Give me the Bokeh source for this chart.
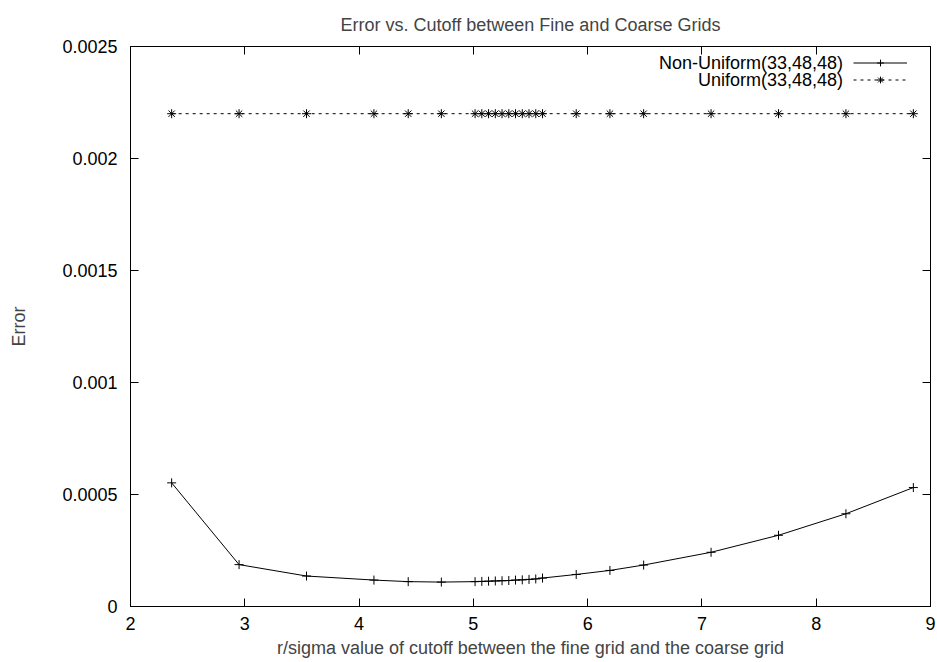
from bokeh.plotting import figure
from bokeh.models import (Range1d, LinearAxis, FixedTicker, Legend, LegendItem, Label)
from bokeh.embed import file_html
from bokeh.resources import INLINE

# ---- data ----
cutoff = [2.36, 2.95, 3.54, 4.13, 4.43, 4.72,
          5.015, 5.074, 5.133, 5.192, 5.251, 5.31, 5.369, 5.428, 5.487, 5.546, 5.605,
          5.90, 6.195, 6.49, 7.08, 7.67, 8.26, 8.85]
err_nonuniform = [0.000552, 0.000187, 0.000136, 0.000118, 0.000111, 0.000109,
                  0.000111, 0.000112, 0.000113, 0.000114, 0.000115, 0.000116, 0.000118,
                  0.000119, 0.000121, 0.000123, 0.000127,
                  0.000143, 0.000161, 0.000185, 0.000242, 0.000318, 0.000414, 0.000531]
err_uniform = [0.0022, 0.0022, 0.0022, 0.0022, 0.0022, 0.0022,
               0.0022, 0.0022, 0.0022, 0.0022, 0.0022, 0.0022, 0.0022,
               0.0022, 0.0022, 0.0022, 0.0022,
               0.0022, 0.0022, 0.0022, 0.0022, 0.0022, 0.0022, 0.0022]
x_ticks = [2, 3, 4, 5, 6, 7, 8, 9]
y_ticks = [0, 0.0005, 0.001, 0.0015, 0.002, 0.0025]
y_tick_labels = ["0", "0.0005", "0.001", "0.0015", "0.002", "0.0025"]
series_names = ["Non-Uniform(33,48,48)", "Uniform(33,48,48)"]
title_text = "Error vs. Cutoff between Fine and Coarse Grids"
x_label = "r/sigma value of cutoff between the fine grid and the coarse grid"
y_label = "Error"

FONT = "Liberation Sans"
FS = "18px"

p = figure(width=937, height=662, output_backend="svg", toolbar_location=None,
           x_range=Range1d(2, 9), y_range=Range1d(0, 0.0025),
           min_border_left=130, min_border_right=7, min_border_top=46, min_border_bottom=56,
           title=title_text)
p.background_fill_color = "white"
p.border_fill_color = "white"
p.outline_line_color = "black"
p.outline_line_width = 1
p.grid.visible = False

p.title.text_font = FONT
p.title.text_font_size = FS
p.title.text_font_style = "normal"
p.title.align = "center"
p.title.standoff = 23

def style_axis(ax, labels=True):
    ax.major_tick_in = 8
    ax.major_tick_out = 0
    ax.minor_tick_line_color = None
    ax.axis_line_color = "black"
    ax.major_tick_line_color = "black"
    ax.major_label_text_font = FONT
    ax.major_label_text_font_size = FS if labels else "1px"
    ax.major_label_text_color = "black"
    ax.axis_label_text_font = FONT
    ax.axis_label_text_font_size = FS
    ax.axis_label_text_font_style = "normal"

xa = p.xaxis[0]
ya = p.yaxis[0]
xa.ticker = FixedTicker(ticks=x_ticks)
ya.ticker = FixedTicker(ticks=y_ticks)
ya.major_label_overrides = {t: l for t, l in zip(y_ticks, y_tick_labels)}
style_axis(xa)
style_axis(ya)
xa.axis_label = x_label
ya.axis_label = y_label
xa.major_label_standoff = 10
ya.major_label_standoff = 13
xa.axis_label_standoff = 5
ya.axis_label_standoff = 30

top = LinearAxis(ticker=FixedTicker(ticks=x_ticks))
style_axis(top, labels=False)
top.major_label_standoff = 0
top.major_label_overrides = {t: "" for t in x_ticks}
p.add_layout(top, "above")
right = LinearAxis(ticker=FixedTicker(ticks=y_ticks))
style_axis(right, labels=False)
right.major_label_standoff = 0
right.major_label_overrides = {t: "" for t in y_ticks}
p.add_layout(right, "right")

l1 = p.line(cutoff, err_nonuniform, line_color="black", line_width=1)
s1 = p.scatter(cutoff, err_nonuniform, marker="cross", size=9, line_color="black", line_width=1)
l2 = p.line(cutoff, err_uniform, line_color="black", line_width=1, line_dash="3 4")
s2 = p.scatter(cutoff, err_uniform, marker="asterisk", size=9, line_color="black", line_width=1)

# gnuplot-style key: text right-aligned, sample to its right
def key_entry(name, rends, bottom_y, text_y):
    lg = Legend(items=[LegendItem(label="", renderers=rends)],
                location=(723, bottom_y), glyph_width=54, glyph_height=17,
                label_height=17, label_width=0, label_standoff=0, padding=0, margin=0,
                spacing=0, border_line_color=None, background_fill_alpha=0,
                label_text_font=FONT, label_text_font_size=FS)
    p.add_layout(lg, "center")
    p.add_layout(Label(x=8.234, y=text_y, text=name, text_align="right",
                       text_baseline="middle", text_font=FONT, text_font_size=FS,
                       text_color="black"))

key_entry(series_names[0], [l1, s1], 535, 0.0024285)
key_entry(series_names[1], [l2, s2], 518, 0.0023525)

open("out.html", "w").write(file_html(p, INLINE))
